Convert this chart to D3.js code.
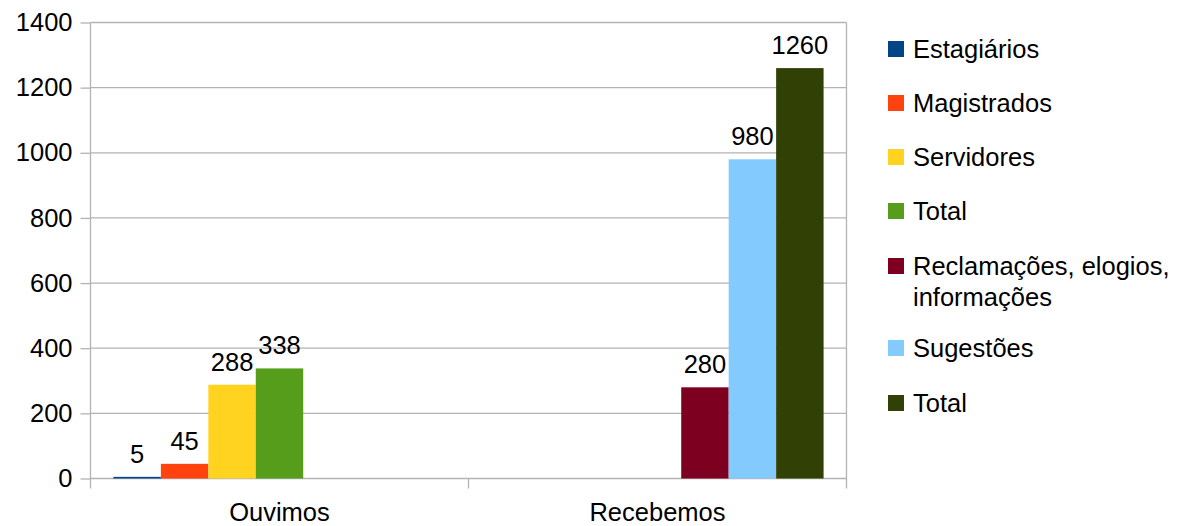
<!DOCTYPE html>
<html>
<head>
<meta charset="utf-8">
<script src="https://cdn.jsdelivr.net/npm/d3@7/dist/d3.min.js"></script>
<style>
  html, body { margin: 0; padding: 0; background: #fff; }
  svg { display: block; font-family: "Liberation Sans", Arial, sans-serif; }
</style>
</head>
<body>
<svg id="chart" width="1179" height="526"></svg>
<script>
// Categories and series
const categories = ["Ouvimos", "Recebemos"];
const seriesNames = ["Estagiários", "Magistrados", "Servidores", "Total",
                     "Reclamações, elogios,\ninformações", "Sugestões", "Total"];
const seriesColors = ["#004586", "#ff420e", "#ffd320", "#579d1c",
                      "#7e0021", "#83caff", "#314004"];
// One value per series for each category (null = no bar)
const ouvimosValues   = [5, 45, 288, 338, null, null, null];
const recebemosValues = [null, null, null, null, 280, 980, 1260];
const yTicks = [0, 200, 400, 600, 800, 1000, 1200, 1400];

const valuesByCategory = [ouvimosValues, recebemosValues];

const svg = d3.select("#chart");
const margin = { left: 90.5, right: 846.5, top: 22.5, bottom: 478.5 };

const x0 = d3.scaleBand().domain(categories).range([margin.left, margin.right])
  .paddingInner(0).paddingOuter(0);
const x1 = d3.scaleBand().domain(d3.range(seriesNames.length)).range([0, x0.bandwidth()])
  .paddingInner(0).paddingOuter(0.483);
const y = d3.scaleLinear().domain([0, 1400]).range([margin.bottom, margin.top]);

const gridColor = "#b3b3b3";
const fontSize = 25.5;

// Horizontal grid lines
svg.append("g").selectAll("line").data(yTicks).join("line")
  .attr("x1", margin.left).attr("x2", margin.right)
  .attr("y1", d => y(d)).attr("y2", d => y(d))
  .attr("stroke", gridColor).attr("stroke-width", 1.3);

// Y axis
const yAxis = svg.append("g")
  .attr("transform", `translate(${margin.left},0)`)
  .call(d3.axisLeft(y).tickValues(yTicks).tickSize(10).tickPadding(8).tickFormat(d3.format("d")));
yAxis.select(".domain").remove();
yAxis.selectAll(".tick line").attr("stroke", gridColor).attr("stroke-width", 1.3);
yAxis.selectAll(".tick text").attr("fill", "#000").style("font-size", fontSize + "px")
  .style("font-family", "'Liberation Sans', Arial, sans-serif");

// Vertical frame lines and category boundaries
const boundaries = [margin.left, x0(categories[1]), margin.right];
svg.append("g").selectAll("line").data(boundaries).join("line")
  .attr("x1", d => d).attr("x2", d => d)
  .attr("y1", (d, i) => (i === 1 ? margin.bottom : margin.top))
  .attr("y2", margin.bottom + 10)
  .attr("stroke", gridColor).attr("stroke-width", 1.3);

// Bars
const bars = [];
categories.forEach((c, ci) => {
  valuesByCategory[ci].forEach((v, si) => {
    if (v !== null) bars.push({ category: c, series: si, value: v });
  });
});

svg.append("g").selectAll("rect").data(bars).join("rect")
  .attr("x", d => x0(d.category) + x1(d.series))
  .attr("width", x1.bandwidth())
  .attr("y", d => y(d.value))
  .attr("height", d => y(0) - y(d.value))
  .attr("fill", d => seriesColors[d.series]);

// Value labels
svg.append("g").selectAll("text").data(bars).join("text")
  .attr("x", d => x0(d.category) + x1(d.series) + x1.bandwidth() / 2)
  .attr("y", d => y(d.value) - 14)
  .attr("text-anchor", "middle")
  .style("font-size", fontSize + "px")
  .attr("fill", "#000")
  .text(d => d.value);

// Category labels
svg.append("g").selectAll("text").data(categories).join("text")
  .attr("x", d => x0(d) + x0.bandwidth() / 2)
  .attr("y", 521)
  .attr("text-anchor", "middle")
  .style("font-size", fontSize + "px")
  .attr("fill", "#000")
  .text(d => d);

// Legend
const legend = svg.append("g");
const legendRowY = [49, 103, 157, 211, 266, 348, 403];
seriesNames.forEach((name, i) => {
  const g = legend.append("g").attr("transform", `translate(888,${legendRowY[i]})`);
  g.append("rect").attr("x", 0).attr("y", -8).attr("width", 16).attr("height", 16)
    .attr("fill", seriesColors[i]);
  const lines = name.split("\n");
  lines.forEach((ln, li) => {
    g.append("text").attr("x", 25).attr("y", 8.5 + li * 31)
      .style("font-size", fontSize + "px").attr("fill", "#000").text(ln);
  });
});
</script>
</body>
</html>
